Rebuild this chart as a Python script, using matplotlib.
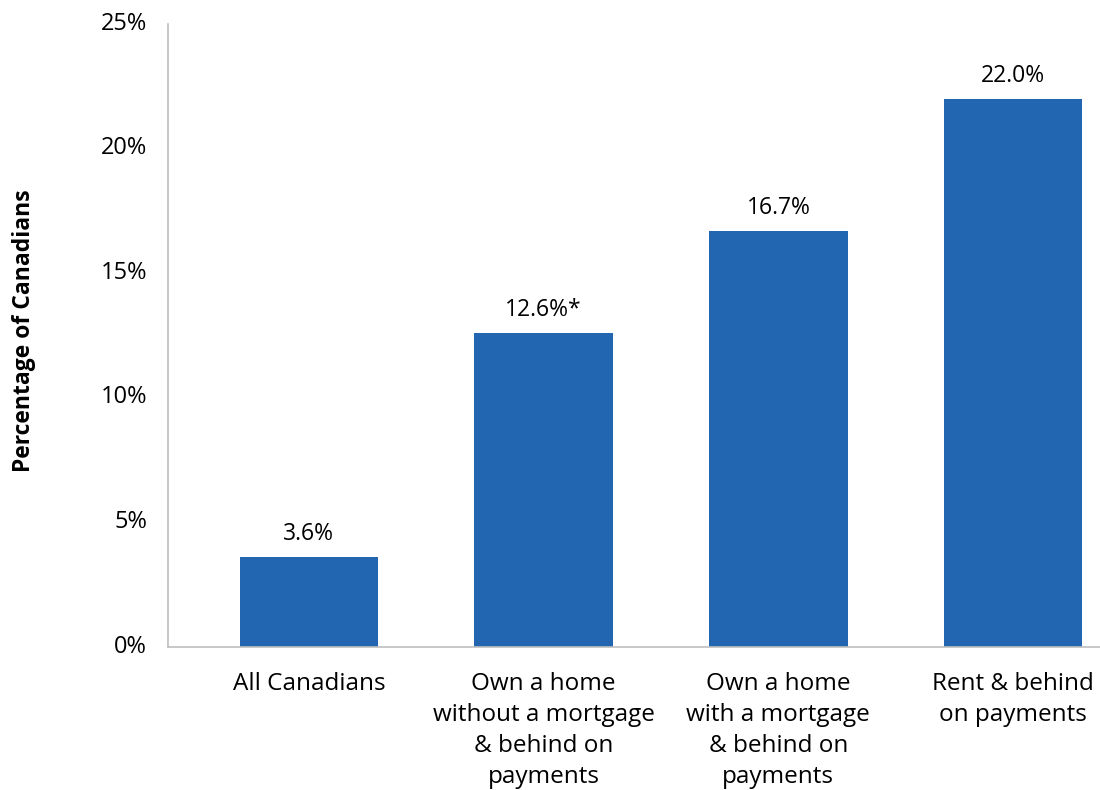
import numpy as np
import matplotlib
matplotlib.use('Agg')
import matplotlib.pyplot as plt
import matplotlib.transforms as mtransforms

# data
categories = ["All Canadians",
              "Own a home\nwithout a mortgage\n& behind on\npayments",
              "Own a home\nwith a mortgage\n& behind on\npayments",
              "Rent & behind\non payments"]
values = [3.6, 12.6, 16.7, 22.0]
value_labels = ["3.6%", "12.6%*", "16.7%", "22.0%"]
yticks = [0, 5, 10, 15, 20, 25]

plt.rcParams['font.family'] = ['Open Sans', 'DejaVu Sans']

fig = plt.figure(figsize=(11, 7.9), dpi=100)
ax = fig.add_axes([0.1527, 0.181, 0.8473, 0.7886])

x = np.arange(len(categories))
ax.bar(x, values, width=0.59, color='#2265B0')

for xi, v, lab in zip(x, values, value_labels):
    ax.annotate(lab, (xi, v), xytext=(0, 8), textcoords='offset points',
                ha='center', va='bottom', fontsize=16.5, color='black')

ax.set_xlim(-0.6, 3.37)
ax.set_ylim(0, 25)
ax.set_yticks(yticks)
ax.set_yticklabels([f"{t}%" for t in yticks], fontsize=17, color='black')
ax.set_xticks(x)
ax.set_xticklabels(categories, fontsize=17.5, color='black', linespacing=1.38)
ax.tick_params(axis='both', length=0)
ax.tick_params(axis='y', pad=15)
ax.tick_params(axis='x', pad=18)

# lift y tick labels a touch, like the original
shift = mtransforms.ScaledTranslation(0, 2.5 / 72, fig.dpi_scale_trans)
for lbl in ax.get_yticklabels():
    lbl.set_transform(lbl.get_transform() + shift)

for s in ['top', 'right']:
    ax.spines[s].set_visible(False)
for s in ['left', 'bottom']:
    ax.spines[s].set_color('#BFBFBF')
    ax.spines[s].set_linewidth(1.2)

fig.text(0.022, 0.582, "Percentage of Canadians", rotation=90, ha='center', va='center',
         fontsize=16.5, fontweight='bold', color='black')

fig.savefig("out.png", dpi=100)
